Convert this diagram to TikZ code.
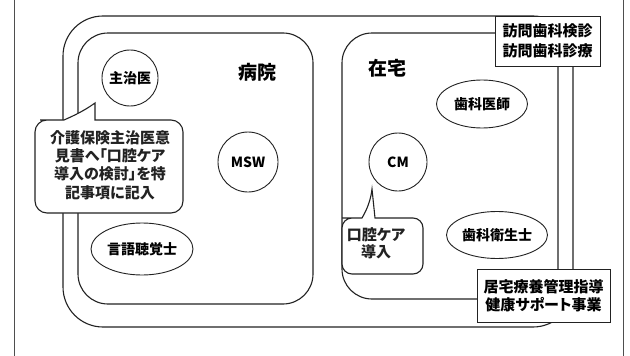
\documentclass[tikz,border=0pt]{standalone}
\usepackage{fontspec}
\setmainfont{Noto Sans CJK JP}[RawFeature=+palt]
\usetikzlibrary{shapes.geometric}
\definecolor{ink}{HTML}{222222}
\tikzset{
  frameline/.style={draw=ink!80, line width=0.9pt},
  areabox/.style={draw=ink, line width=1.1pt},
  circnode/.style={circle, draw=ink, line width=0.9pt, fill=white, inner sep=0pt, font=\fontsize{14}{16}\selectfont\bfseries},
  ellnode/.style={ellipse, draw=ink, line width=0.9pt, fill=white, inner sep=0pt, font=\fontsize{14}{16}\selectfont\bfseries},
  callout/.style={draw=ink, line width=1.1pt, fill=white},
  areatitle/.style={font=\fontsize{19}{21}\selectfont\bfseries, inner sep=0pt},
  tagbox/.style={rectangle, draw=ink, line width=1pt, fill=white, inner sep=0pt, align=center},
  txt/.style={inner sep=0pt, align=center, text=ink}
}
\begin{document}
\begin{tikzpicture}[x=1pt,y=-1pt]
\useasboundingbox (0,0) rectangle (630,356);
\fill[white] (0,0) rectangle (630,356);
% outer frame lines
\draw[frameline] (14,0) -- (14,356);
\draw[frameline] (623,0) -- (623,356);
% middle blob
\draw[areabox] (63,16) [rounded corners=40pt] rectangle (573,327);
% hospital
\draw[areabox] (78,33) [rounded corners=30pt] rectangle (313,304);
% home
\draw[areabox] (342,33) [rounded corners=30pt] rectangle (558,299);
% titles
\node[areatitle] (byoin) at (257,72) {病院};
\node[areatitle] (zaitaku) at (387,68) {在宅};
% nodes
\node[circnode, minimum size=56pt] (shuji) at (130,78) {主治医};
\node[circnode, minimum size=60pt] (msw) at (248,162) {MSW};
\node[ellnode, minimum width=102pt, minimum height=52pt] (gengo) at (142,249) {言語聴覚士};
\node[ellnode, minimum width=91pt, minimum height=48pt] (shikaishi) at (482,104) {歯科医師};
\node[circnode, minimum size=58pt] (cm) at (398,162) {CM};
\node[ellnode, minimum width=101pt, minimum height=47pt] (eisei) at (497,235) {歯科衛生士};
% callout 1
\coordinate (tip1) at (95,103);
\draw[callout] (tip1) -- (95,120) -- (110,120) [rounded corners=12pt] -- (183,120) -- (183,213) -- (35,213) -- (35,120) -- (52,120) [sharp corners] -- (64,120) .. controls (80,113) and (88,108) .. (tip1) -- cycle;
\node[txt, font=\fontsize{15}{18.3}\selectfont\bfseries] (c1text) at (110,165) {介護保険主治医意\\見書へ「口腔ケア\\導入の検討」を特\\記事項に記入};
% callout 2
\coordinate (tip2) at (372,189);
\draw[callout] (tip2) -- (375,218) -- (390,218) [rounded corners=10pt] -- (423,218) -- (423,274) -- (342,274) -- (342,218) -- (352,218) [sharp corners] -- (362,218) .. controls (368,208) and (371,198) .. (tip2) -- cycle;
\node[txt, font=\fontsize{15}{17}\selectfont\bfseries] (c2text) at (376,243) {口腔ケア\\導入};
% tag boxes
\node[tagbox, minimum width=105pt, minimum height=50pt, font=\fontsize{15}{20}\selectfont\bfseries] (homon) at (547.5,41) {訪問歯科検診\\訪問歯科診療};
\node[tagbox, minimum width=133pt, minimum height=53pt, font=\fontsize{15}{18}\selectfont\bfseries] (kyotaku) at (543.5,295.5) {居宅療養管理指導\\健康サポート事業};
\end{tikzpicture}
\end{document}
